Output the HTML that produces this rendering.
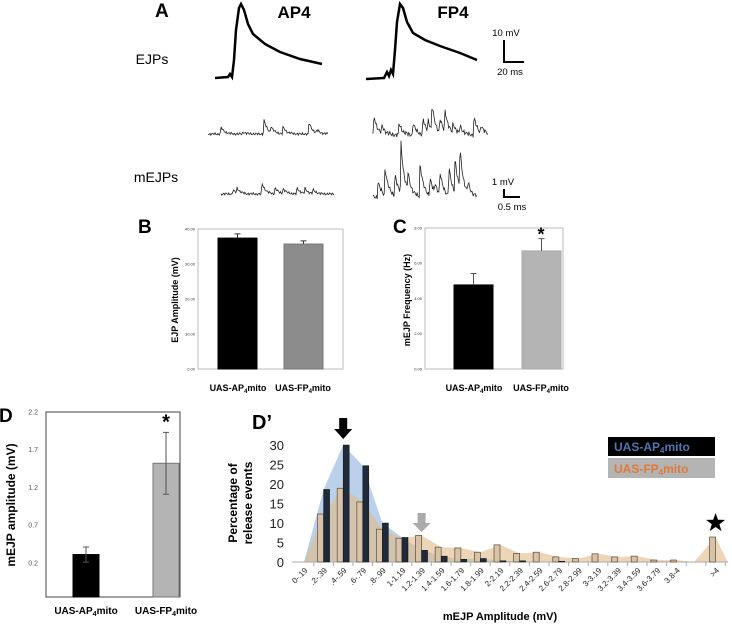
<!DOCTYPE html>
<html><head><meta charset="utf-8"><style>
body{margin:0;background:#fff;}
svg{display:block;font-family:"Liberation Sans",sans-serif;}
</style></head><body>
<svg id="fig" width="732" height="625" viewBox="0 0 732 625">
<g>
<text x="155" y="17" font-size="19" font-weight="bold">A</text>
<text x="294" y="18" font-size="17" font-weight="bold" text-anchor="middle">AP4</text>
<text x="453" y="18" font-size="17" font-weight="bold" text-anchor="middle">FP4</text>
<text x="152" y="64" font-size="14" text-anchor="middle">EJPs</text>
<text x="156" y="182" font-size="14" text-anchor="middle">mEJPs</text>
<path d="M215,78 L228,77 L230,74 L232,77 L234,60 L236,30 L239,8 L241,4 L244,10 L248,24 L253,34 L265,44 L280,52 L300,59 L322,64" fill="none" stroke="#000" stroke-width="2.5"/>
<path d="M366,79 L384,78 L387,72 L389,76 L391,70 L393,74 L395,50 L397,22 L400,4 L403,8 L407,22 L413,33 L425,40 L440,46 L460,53 L477,60" fill="none" stroke="#000" stroke-width="2.5"/>
<text x="506" y="36" font-size="9.5" text-anchor="middle">10 mV</text>
<path d="M504,40 L504,62 L524,62" fill="none" stroke="#000" stroke-width="2"/>
<text x="510" y="75" font-size="9.5" text-anchor="middle">20 ms</text>
<text x="503" y="185" font-size="9.5" text-anchor="middle">1 mV</text>
<path d="M504,189 L504,197 L520,197" fill="none" stroke="#000" stroke-width="2"/>
<text x="512" y="210" font-size="9.5" text-anchor="middle">0.5 ms</text>
<g id="mtraces"></g>
</g>
<g id="panelB">
<text x="138" y="233" font-size="19" font-weight="bold">B</text>
<text transform="translate(178,300) rotate(-90)" font-size="9" font-weight="bold" text-anchor="middle">EJP Amplitude (mV)</text>
<text x="238" y="391" font-size="9" font-weight="bold" text-anchor="middle">UAS-AP<tspan font-size="6" dy="2">4</tspan><tspan dy="-2">mito</tspan></text>
<text x="303" y="391" font-size="9" font-weight="bold" text-anchor="middle">UAS-FP<tspan font-size="6" dy="2">4</tspan><tspan dy="-2">mito</tspan></text>
</g>
<g id="panelC">
<text x="393" y="233" font-size="19" font-weight="bold">C</text>
<text transform="translate(410,300) rotate(-90)" font-size="9" font-weight="bold" text-anchor="middle">mEJP Frequency (Hz)</text>
<text x="474" y="391" font-size="9" font-weight="bold" text-anchor="middle">UAS-AP<tspan font-size="6" dy="2">4</tspan><tspan dy="-2">mito</tspan></text>
<text x="541" y="391" font-size="9" font-weight="bold" text-anchor="middle">UAS-FP<tspan font-size="6" dy="2">4</tspan><tspan dy="-2">mito</tspan></text>
</g>
<g id="panelD">
<text x="-1" y="422" font-size="19" font-weight="bold">D</text>
<text transform="translate(15,505) rotate(-90)" font-size="12" font-weight="bold" text-anchor="middle">mEJP amplitude (mV)</text>
<text x="86" y="614" font-size="10" font-weight="bold" text-anchor="middle">UAS-AP<tspan font-size="7" dy="2">4</tspan><tspan dy="-2">mito</tspan></text>
<text x="166" y="614" font-size="10" font-weight="bold" text-anchor="middle">UAS-FP<tspan font-size="7" dy="2">4</tspan><tspan dy="-2">mito</tspan></text>
</g>
<g id="panelD2">
<text x="252" y="429" font-size="20" font-weight="bold">D’</text>
<text transform="translate(237,503) rotate(-90)" font-size="12" font-weight="bold" text-anchor="middle">Percentage of</text>
<text transform="translate(252,503) rotate(-90)" font-size="12" font-weight="bold" text-anchor="middle">release events</text>
<text x="500" y="620" font-size="11" font-weight="bold" text-anchor="middle">mEJP Amplitude (mV)</text>
<rect x="608" y="437" width="107" height="19" fill="#000"/>
<text x="614" y="451" font-size="12" font-weight="bold" fill="#4a78b0">UAS-AP<tspan font-size="8" dy="2">4</tspan><tspan dy="-2">mito</tspan></text>
<rect x="608" y="458" width="107" height="20" fill="#b4b4b4"/>
<text x="614" y="473" font-size="12" font-weight="bold" fill="#e07a38">UAS-FP<tspan font-size="8" dy="2">4</tspan><tspan dy="-2">mito</tspan></text>
</g>
</svg>
<script>
const NS="http://www.w3.org/2000/svg";
function mk(parent,tag,attrs){const e=document.createElementNS(NS,tag);for(const k in attrs)e.setAttribute(k,attrs[k]);parent.appendChild(e);return e;}

const bCategories=["UAS-AP4mito","UAS-FP4mito"];
const bValues=[37.4,35.7];
const bErrors=[1.2,0.9];
const bTicks=[0,10,20,30,40];
const cCategories=["UAS-AP4mito","UAS-FP4mito"];
const cValues=[4.77,6.7];
const cErrors=[0.65,0.7];
const cTicks=[0,2,4,6,8];
const dCategories=["UAS-AP4mito","UAS-FP4mito"];
const dValues=[0.31,1.52];
const dErrors=[0.1,0.41];
const dTicks=[0.2,0.7,1.2,1.7,2.2];
const dpCategories=["0-.19",".2-.39",".4-.59",".6-.79",".8-.99","1-1.19","1.2-1.39","1.4-1.59","1.6-1.79","1.8-1.99","2-2.19","2.2-2.39","2.4-2.59","2.6-2.79","2.8-2.99","3-3.19","3.2-3.39","3.4-3.59","3.6-3.79","3.8-4","",">4"];
const dpAP=[0,18.6,30,24.7,10,6.3,3,1.5,0.7,0.9,0.3,0.3,0,0.2,0,0,0,0,0,0,0,0];
const dpFP=[0,12.3,18.9,15.4,8.4,6.1,6.8,3.8,3.6,2.5,4.4,2.2,2.5,1.3,0.9,2.1,1.3,1.5,0.5,0.5,0,6.4];
const dpTicks=[0,5,10,15,20,25,30];

function barPanel(g,o){
  const y=v=>o.bottom-(v-o.min)/(o.max-o.min)*(o.bottom-o.top);
  const box=mk(g,'rect',{x:o.left,y:o.top,width:o.right-o.left,height:o.bottom-o.top,fill:'none',stroke:o.boxStroke,'stroke-width':1});
  
  
  o.ticks.forEach(t=>{
    const tx=mk(g,'text',{x:o.left-o.tickGap,y:y(t)+o.tickFs*0.35,'font-size':o.tickFs,'text-anchor':'end',fill:o.tickColor});
    tx.textContent=o.fmt(t);
    
    
  });
  o.values.forEach((v,i)=>{
    const x0=o.barX[i];
    const r=mk(g,'rect',{x:x0,y:y(v),width:o.barW,height:o.bottom-y(v),fill:o.fills[i],stroke:o.strokes[i],'stroke-width':1});
    
    
    const cx=x0+o.barW/2,e=o.errors[i];
    const eb=mk(g,'path',{d:`M${cx},${y(v+e)}L${cx},${o.lowerErr?y(v-e):y(v)}M${cx-3},${y(v+e)}L${cx+3},${y(v+e)}`+(o.lowerErr?`M${cx-3},${y(v-e)}L${cx+3},${y(v-e)}`:''),stroke:o.errColor,'stroke-width':1,fill:'none'});
    
    
  });
  return y;
}
const gB=document.getElementById('panelB');
barPanel(gB,{id:'b',left:198,right:343,top:229,bottom:369,min:0,max:40,ticks:bTicks,values:bValues,errors:bErrors,barX:[218,284],barW:39,fills:['#000','#8c8c8c'],strokes:['#000','#777'],tickFs:4,tickGap:3,tickColor:'#333',fmt:t=>t.toFixed(2),errColor:'#333',boxStroke:'#bbb'});
const gC=document.getElementById('panelC');
const yC=barPanel(gC,{id:'c',left:425,right:563,top:228,bottom:369,min:0,max:8,ticks:cTicks,values:cValues,errors:cErrors,barX:[454,522],barW:39,fills:['#000','#b4b4b4'],strokes:['#000','#aaa'],tickFs:4,tickGap:3,tickColor:'#333',fmt:t=>t.toFixed(2),errColor:'#555',boxStroke:'#bbb'});
let st=mk(gC,'text',{x:541,y:yC(cValues[1]+cErrors[1])+2,'font-size':18,'font-weight':'bold','text-anchor':'middle'});st.textContent='*';


const gD=document.getElementById('panelD');
const yD=barPanel(gD,{id:'d',left:46,right:180,top:412,bottom:597,min:-0.253,max:2.2,ticks:dTicks,values:dValues,errors:dErrors,barX:[73,153],barW:26,fills:['#000','#b4b4b4'],strokes:['#000','#777'],tickFs:7,tickGap:8,tickColor:'#555',fmt:t=>String(t),errColor:'#555',lowerErr:true,boxStroke:'#444'});
st=mk(gD,'text',{x:166,y:yD(dValues[1]+dErrors[1])-4,'font-size':20,'font-weight':'bold','text-anchor':'middle'});st.textContent='*';



const gP=document.getElementById('panelD2');
const px=i=>304+19.6*i;
const py=v=>562-v*3.9;
dpTicks.forEach(t=>{
  const tx=mk(gP,'text',{x:284,y:py(t)+5,'font-size':13,'text-anchor':'end',fill:'#222'});
  tx.textContent=t;
  
  
});
function area(vals,fill,name){
  let d=`M${px(0)-10},${py(0)}`;
  vals.forEach((v,i)=>{if(dpCategories[i]===''&&i<vals.length-1){d+=`L${px(i)-2},${py(0)}`;return;} d+=`L${px(i)},${py(v)}`;});
  d+=`L${px(vals.length-1)+12},${py(0)}Z`;
  const p=mk(gP,'path',{d:d,fill:fill});
  
  
}
area(dpAP,'rgba(150,185,225,0.65)','ap-area');
area(dpFP,'rgba(225,185,135,0.6)','fp-area');
const ax=mk(gP,'line',{x1:292,y1:562,x2:728,y2:562,stroke:'#aaa','stroke-width':1});


dpCategories.forEach((c,i)=>{
  const cx=px(i);
  const tk=mk(gP,'line',{x1:cx+9.8,y1:562,x2:cx+9.8,y2:566,stroke:'#aaa'});
  
  
  if(dpFP[i]>0){const r=mk(gP,'rect',{x:cx-6,y:py(dpFP[i]),width:6,height:dpFP[i]*3.9,fill:'#d9c3a8',stroke:'#6b5a48','stroke-width':0.8});
    
    }
  if(dpAP[i]>0){const r=mk(gP,'rect',{x:cx,y:py(dpAP[i]),width:6,height:dpAP[i]*3.9,fill:'#1f2a3a',stroke:'#111','stroke-width':0.5});
    
    }
  if(c){const t=mk(gP,'text',{transform:`translate(${cx+4},571) rotate(-45)`,'font-size':8,'text-anchor':'end',fill:'#222'});t.textContent=c;
    
    }
});
let ar=mk(gP,'path',{d:`M${px(2)-4},418 h8 v11 h5 l-9,10 l-9,-10 h5z`,fill:'#000'});


ar=mk(gP,'path',{d:`M${px(6)-4},513 h8 v10 h5 l-9,9 l-9,-9 h5z`,fill:'#aaa'});


const sx=px(21),sy=py(dpFP[21])-14;let sp='';
for(let k=0;k<10;k++){const r=k%2?4:10,a=-Math.PI/2+k*Math.PI/5;sp+=(k?'L':'M')+(sx+r*Math.cos(a)).toFixed(1)+','+(sy+r*Math.sin(a)).toFixed(1);}
ar=mk(gP,'path',{d:sp+'Z',fill:'#000'});



const gM=document.getElementById('mtraces');
function trace(x0,x1,base,spikes,noise,sw,name){
  let d='';
  for(let x=x0;x<=x1;x+=0.7){
    let v=noise*(Math.sin(x*2.3)+0.6*Math.sin(x*5.1+1)+0.4*Math.sin(x*9.7));
    spikes.forEach(s=>{const dx=x-s[0];if(dx>=0)v-=s[1]*Math.exp(-dx/3.5);else if(dx>-0.8)v-=s[1]*(1+dx/0.8);});
    d+=(d?'L':'M')+x.toFixed(1)+','+(base+v).toFixed(1);
  }
  const p=mk(gM,'path',{d:d,fill:'none',stroke:'#222','stroke-width':sw});
  
  
}
trace(208,328,134,[[221,7],[243,2],[264,14],[271,6],[283,7],[309,12],[317,3]],0.8,0.8,'ap4-mejp-trace-1');
trace(221,334,194,[[233,4],[237,5],[262,11],[275,6],[283,5],[297,6],[305,5],[313,4]],0.8,0.8,'ap4-mejp-trace-2');
trace(373,488,135,[[374,20],[382,8],[399,12],[413,12],[423,16],[428,12],[432,26],[440,14],[445,22],[453,10],[460,8],[474,18],[481,8]],1.5,0.8,'fp4-mejp-trace-1');
trace(373,477,197,[[378,16],[385,28],[395,22],[401,50],[408,18],[420,34],[430,18],[435,10],[440,22],[449,28],[455,35],[460,40],[468,10]],1.5,0.8,'fp4-mejp-trace-2');
</script>
</body></html>
